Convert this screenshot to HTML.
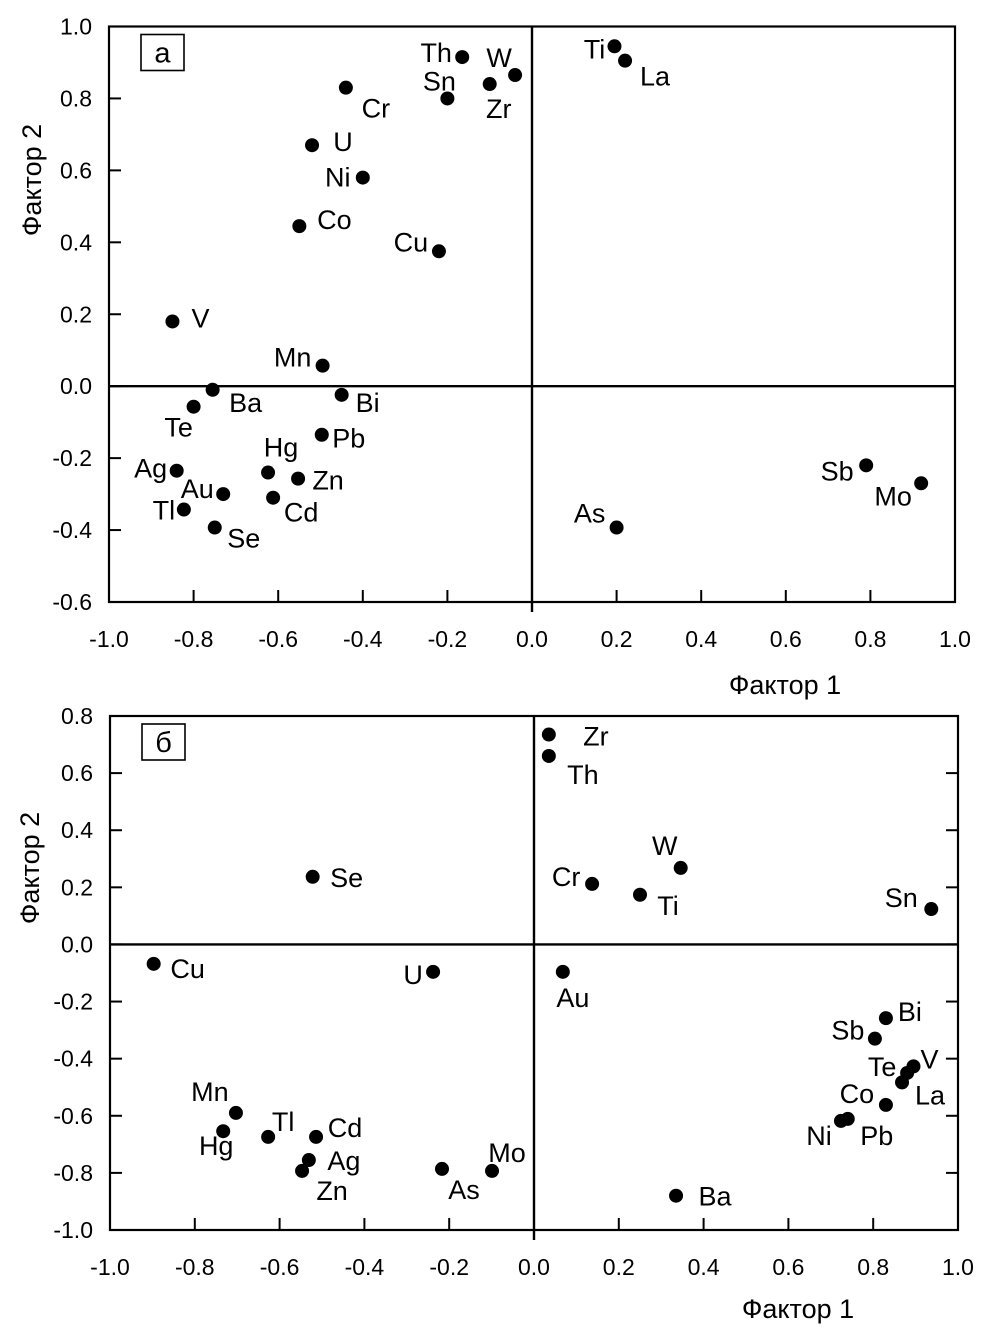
<!DOCTYPE html>
<html><head><meta charset="utf-8"><style>
html,body{margin:0;padding:0;background:#fff;}
svg{display:block;font-family:"Liberation Sans",Arial,sans-serif;}
</style></head><body>
<svg id="svg" width="988" height="1337" viewBox="0 0 988 1337"></svg>
<script>
// Chart A data
const namesA = ["Th","W","Sn","Zr","Ti","La","Cr","U","Ni","Co","Cu","V","Mn","Ba","Te","Bi","Pb","Hg","Zn","Ag","Au","Cd","Tl","Se","Sb","Mo","As"];
const xA = [-0.165,-0.04,-0.20,-0.10,0.195,0.22,-0.44,-0.52,-0.40,-0.55,-0.22,-0.85,-0.495,-0.755,-0.80,-0.45,-0.497,-0.624,-0.553,-0.84,-0.73,-0.612,-0.823,-0.75,0.79,0.92,0.20];
const yA = [0.915,0.865,0.80,0.84,0.945,0.905,0.83,0.67,0.58,0.445,0.375,0.18,0.057,-0.01,-0.057,-0.024,-0.135,-0.24,-0.257,-0.235,-0.30,-0.31,-0.343,-0.393,-0.22,-0.27,-0.393];
const ldxA = [-26,-16,-8,9,-20,30,30,31,-25,35,-28,28,-30,33,-15,26,27,13,30,-26,-26,28,-20,29,-29,-28,-27];
const ldyA = [-5,-18,-18,24,2,15,20,-4,-1,-7,-10,-4,-9,12,20,7,3,-26,1,-3,-6,14,0,10,5,12,-15];
const xTicksA = ["-1.0","-0.8","-0.6","-0.4","-0.2","0.0","0.2","0.4","0.6","0.8","1.0"];
const yTicksA = ["-0.6","-0.4","-0.2","0.0","0.2","0.4","0.6","0.8","1.0"];
// Chart B data
const namesB = ["Zr","Th","W","Cr","Ti","Sn","Se","Cu","U","Au","Bi","Sb","V","Te","La","Co","Pb","Ni","Ba","Mn","Hg","Tl","Cd","Ag","Zn","As","Mo"];
const xB = [0.035,0.035,0.346,0.137,0.25,0.937,-0.522,-0.897,-0.238,0.068,0.83,0.804,0.895,0.88,0.868,0.83,0.74,0.724,0.335,-0.703,-0.733,-0.627,-0.514,-0.531,-0.547,-0.217,-0.099];
const yB = [0.735,0.66,0.268,0.212,0.174,0.124,0.237,-0.068,-0.096,-0.096,-0.258,-0.33,-0.427,-0.45,-0.483,-0.562,-0.611,-0.618,-0.88,-0.59,-0.654,-0.674,-0.674,-0.755,-0.793,-0.786,-0.793];
const ldxB = [47,34,-16,-26,28,-30,34,34,-20,10,24,-27,16,-25,28,-29,29,-22,39,-26,-7,15,29,35,30,22,15];
const ldyB = [1,18,-23,-8,10,-12,0,4,2,25,-7,-9,-8,-7,12,-12,16,14,0,-22,14,-16,-10,0,19,20,-19];
const xTicksB = ["-1.0","-0.8","-0.6","-0.4","-0.2","0.0","0.2","0.4","0.6","0.8","1.0"];
const yTicksB = ["-1.0","-0.8","-0.6","-0.4","-0.2","0.0","0.2","0.4","0.6","0.8"];

const NS="http://www.w3.org/2000/svg";
const svg=document.getElementById('svg');
function mk(tag,attrs,parent){const e=document.createElementNS(NS,tag);for(const k in attrs)e.setAttribute(k,attrs[k]);(parent||svg).appendChild(e);return e;}

function chart(cfg){
  const g=mk('g',{});
  
  
  const sx=v=>cfg.L+(v-cfg.xmin)/(cfg.xmax-cfg.xmin)*(cfg.R-cfg.L);
  const sy=v=>cfg.B-(v-cfg.ymin)/(cfg.ymax-cfg.ymin)*(cfg.B-cfg.T);
  const frame=mk('rect',{x:cfg.L,y:cfg.T,width:cfg.R-cfg.L,height:cfg.B-cfg.T,fill:'none',stroke:'#000','stroke-width':2.2},g);
  
  
  const zx=mk('line',{x1:cfg.L,x2:cfg.R,y1:sy(0),y2:sy(0),stroke:'#000','stroke-width':2.4},g);
  
  
  const zy=mk('line',{x1:sx(0),x2:sx(0),y1:cfg.T,y2:cfg.B+10,stroke:'#000','stroke-width':2.4},g);
  
  
  cfg.xt.forEach(t=>{const v=parseFloat(t),x=sx(v);
    mk('line',{x1:x,x2:x,y1:cfg.B,y2:cfg.B-12,stroke:'#000','stroke-width':2},g);
    const tx=mk('text',{x:x,y:cfg.B+45,'font-size':23,'text-anchor':'middle'},g);tx.textContent=t;
    
    
  });
  cfg.yt.forEach(t=>{const v=parseFloat(t),y=sy(v);
    mk('line',{x1:cfg.L,x2:cfg.L+12,y1:y,y2:y,stroke:'#000','stroke-width':2},g);
    if(cfg.rightTicks)mk('line',{x1:cfg.R,x2:cfg.R-12,y1:y,y2:y,stroke:'#000','stroke-width':2},g);
    const tx=mk('text',{x:cfg.L-17,y:y+8,'font-size':23,'text-anchor':'end'},g);tx.textContent=t;
    
    
  });
  cfg.names.forEach((n,i)=>{const x=sx(cfg.xs[i]),y=sy(cfg.ys[i]);
    const c=mk('circle',{cx:x,cy:y,r:7,fill:'#000'},g);
    
    
    const t=mk('text',{x:x+cfg.dx[i],y:y+cfg.dy[i]+10,'font-size':27,'text-anchor':'middle'},g);t.textContent=n;
    
    
  });
  const pb=mk('rect',{x:cfg.L+32,y:cfg.T+8,width:43,height:36,fill:'#fff',stroke:'#000','stroke-width':1.6},g);
  
  
  const pl=mk('text',{x:cfg.L+53.5,y:cfg.T+36,'font-size':29,'text-anchor':'middle'},g);pl.textContent=cfg.panel;
  
  
  const xtitle=mk('text',{x:cfg.xtx,y:cfg.xty,'font-size':27,'text-anchor':'middle'},g);xtitle.textContent='Фактор 1';
  
  
  const ytitle=mk('text',{x:0,y:0,'font-size':27,'text-anchor':'middle',transform:'translate('+cfg.ytx+','+cfg.yty+') rotate(-90)'},g);ytitle.textContent='Фактор 2';
  
  
}
chart({id:'chart-a',L:109,R:955,T:26.5,B:602,xmin:-1,xmax:1,ymin:-0.6,ymax:1.0,xt:xTicksA,yt:yTicksA,names:namesA,xs:xA,ys:yA,dx:ldxA,dy:ldyA,panel:'а',xtx:785,xty:694,ytx:41,yty:180,rightTicks:false});
chart({id:'chart-b',L:110,R:958,T:716,B:1230,xmin:-1,xmax:1,ymin:-1.0,ymax:0.8,xt:xTicksB,yt:yTicksB,names:namesB,xs:xB,ys:yB,dx:ldxB,dy:ldyB,panel:'б',xtx:798,xty:1318,ytx:39,yty:868,rightTicks:true});
</script>
</body></html>
